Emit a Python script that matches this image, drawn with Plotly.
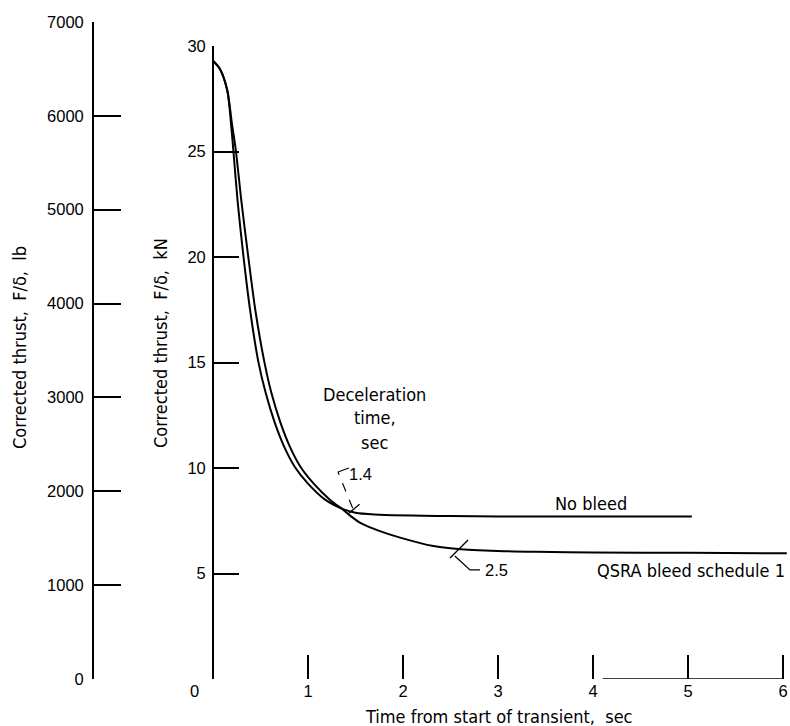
import numpy as np
import plotly.graph_objects as go

# ---------------- data ----------------
no_bleed_t = [0.0, 0.074, 0.15, 0.19, 0.214, 0.26, 0.32, 0.39, 0.477, 0.555, 0.65, 0.75, 0.86, 1.0, 1.18,
              1.37, 1.5, 1.7, 2.5, 3.5, 4.5, 5.04]
no_bleed_kn = [29.3, 28.9, 27.9, 26.3, 25.07, 22.6, 20.05, 17.5, 15.04, 13.55, 12.15, 11.0, 10.06, 9.26, 8.5,
               8.05, 7.88, 7.8, 7.72, 7.7, 7.7, 7.7]

qsra_t = [0.0, 0.074, 0.15, 0.2, 0.24, 0.30, 0.37, 0.445, 0.54, 0.615, 0.71, 0.81, 0.92, 1.06, 1.23,
          1.37, 1.45, 1.55, 1.75, 1.97, 2.32, 2.58, 3.0, 3.4, 4.0, 5.0, 6.04]
qsra_kn = [29.3, 28.9, 27.9, 26.3, 25.07, 22.6, 20.05, 17.5, 15.04, 13.55, 12.15, 11.0, 10.06, 9.26, 8.5,
           8.02, 7.72, 7.4, 7.02, 6.7, 6.3, 6.16, 6.07, 6.03, 6.0, 5.98, 5.96]

x_ticks = [0, 1, 2, 3, 4, 5, 6]
kn_ticks = [5, 10, 15, 20, 25, 30]
lb_ticks = [0, 1000, 2000, 3000, 4000, 5000, 6000, 7000]
decel_marks = {"1.4": 1.48, "2.5": 2.59}

LB_TO_KN = 4.44822 / 1000.0

# ---------------- layout geometry (pixels) ----------------
W, H = 790, 726
X0, PX_S = 213.0, 95.0
Y0, PX_KN = 679.0, 21.1
X_MAX = 6.05
LB_AXIS_X = 93.0

def fx(px):
    return px / W

def fy(py):
    return 1 - py / H

kn_top_px = Y0 - 30 * PX_KN
lb_top_px = Y0 - 7000 * LB_TO_KN * PX_KN

TICK_FONT = dict(family="Liberation Sans, Arial, sans-serif", size=16.5, color="black")
TEXT_FONT = dict(family="DejaVu Sans Condensed, Liberation Sans, sans-serif", size=18, color="black")

fig = go.Figure()
line_style = dict(color="black", width=2)
fig.add_trace(go.Scatter(x=no_bleed_t, y=no_bleed_kn, mode="lines", line=line_style,
                         line_shape="spline", line_smoothing=0.8, name="No bleed", showlegend=False))
fig.add_trace(go.Scatter(x=qsra_t, y=qsra_kn, mode="lines", line=line_style,
                         line_shape="spline", line_smoothing=0.8, name="QSRA bleed schedule 1", showlegend=False))
# carrier trace for the lb axis
fig.add_trace(go.Scatter(x=[None], y=[None], yaxis="y2", showlegend=False, hoverinfo="skip"))

fig.update_layout(
    width=W, height=H, margin=dict(l=0, r=0, t=0, b=0, autoexpand=False),
    paper_bgcolor="white", plot_bgcolor="rgba(0,0,0,0)", showlegend=False,
    xaxis=dict(domain=[fx(X0), fx(X0 + X_MAX * PX_S)], range=[0, X_MAX], anchor="y",
               automargin=False,
               showgrid=False, zeroline=False, showline=False,
               tickmode="array", tickvals=x_ticks,
               ticktext=["0\u2007\u2007\u2007\u2007"] + [str(v) for v in x_ticks[1:]],
               ticks="inside", ticklen=24, tickwidth=1.6, tickcolor="black",
               tickfont=TICK_FONT),
    yaxis=dict(domain=[fy(Y0), fy(kn_top_px)], range=[0, 30], anchor="free", position=fx(X0),
               automargin=False,
               showgrid=False, zeroline=False, showline=True, linecolor="black", linewidth=1.8,
               tickmode="array", tickvals=kn_ticks,
               ticks="inside", ticklen=25, tickwidth=1.6, tickcolor="black",
               ticklabelstandoff=3, tickfont=TICK_FONT),
    yaxis2=dict(domain=[fy(Y0), fy(lb_top_px)], range=[0, 7000], anchor="free", position=fx(LB_AXIS_X),
                automargin=False,
                showgrid=False, zeroline=False, showline=True, linecolor="black", linewidth=1.8,
                tickmode="array", tickvals=lb_ticks,
                ticks="inside", ticklen=27, tickwidth=1.6, tickcolor="black",
                ticklabelstandoff=5, tickfont=TICK_FONT),
)

# partial bottom axis line from 4.1 to 6
fig.add_shape(type="line", xref="x", yref="y", x0=4.1, x1=6.0, y0=0, y1=0,
              line=dict(color="black", width=1.5))

# deceleration-time markers
def curve_y(ts, ys, t):
    return float(np.interp(t, ts, ys))

dt = 6 / PX_S
dk = 5 / PX_KN
t14 = decel_marks["1.4"]
k14 = curve_y(no_bleed_t, no_bleed_kn, t14) + 3 / PX_KN
fig.add_shape(type="line", xref="x", yref="y", x0=t14 - dt, y0=k14 - dk, x1=t14 + dt, y1=k14 + dk,
              line=dict(color="black", width=1.3))
fig.add_shape(type="line", xref="x", yref="y", x0=t14 - 0.01, y0=k14 + 0.05, x1=1.316, y1=9.81,
              line=dict(color="black", width=1.2, dash="dash"))
fig.add_shape(type="line", xref="x", yref="y", x0=1.316, y0=9.81, x1=1.43, y1=10.0,
              line=dict(color="black", width=1.2))

t25 = decel_marks["2.5"]
k25 = curve_y(qsra_t, qsra_kn, t25)
dt2 = 9 / PX_S
dk2 = 9 / PX_KN
fig.add_shape(type="line", xref="x", yref="y", x0=t25 - dt2, y0=k25 - dk2, x1=t25 + dt2, y1=k25 + dk2,
              line=dict(color="black", width=1.3))
fig.add_shape(type="path", xref="x", yref="y",
              path=f"M {t25 - 0.045},{k25 - 0.33} L 2.705,5.17 L 2.81,5.17",
              line=dict(color="black", width=1.3))

def note(text, x, y, xanchor="center", font=TEXT_FONT):
    fig.add_annotation(text=text, x=x, y=y, xref="x", yref="y", showarrow=False,
                       xanchor=xanchor, yanchor="middle", font=font)

note("Deceleration", 1.705, 13.46)
note("time,", 1.705, 12.37)
note("sec", 1.705, 11.23)
note("1.4", 1.41, 9.72, xanchor="left", font=TICK_FONT)
note("No bleed", 3.98, 8.34)
note("2.5", 2.84, 5.17, xanchor="left", font=TICK_FONT)
note("QSRA bleed schedule 1", 6.04, 5.12, xanchor="right")

def paper_note(text, px, py, angle=0):
    fig.add_annotation(text=text, x=fx(px), y=fy(py), xref="paper", yref="paper",
                       xanchor="center", yanchor="middle",
                       showarrow=False, textangle=angle, font=TEXT_FONT)

paper_note("Corrected thrust,  F/δ,  lb", 20, 348, -90)
paper_note("Corrected thrust,  F/δ,  kN", 161, 343, -90)
paper_note("Time from start of transient,  sec", 499, 716)

fig.write_html("out.html")
